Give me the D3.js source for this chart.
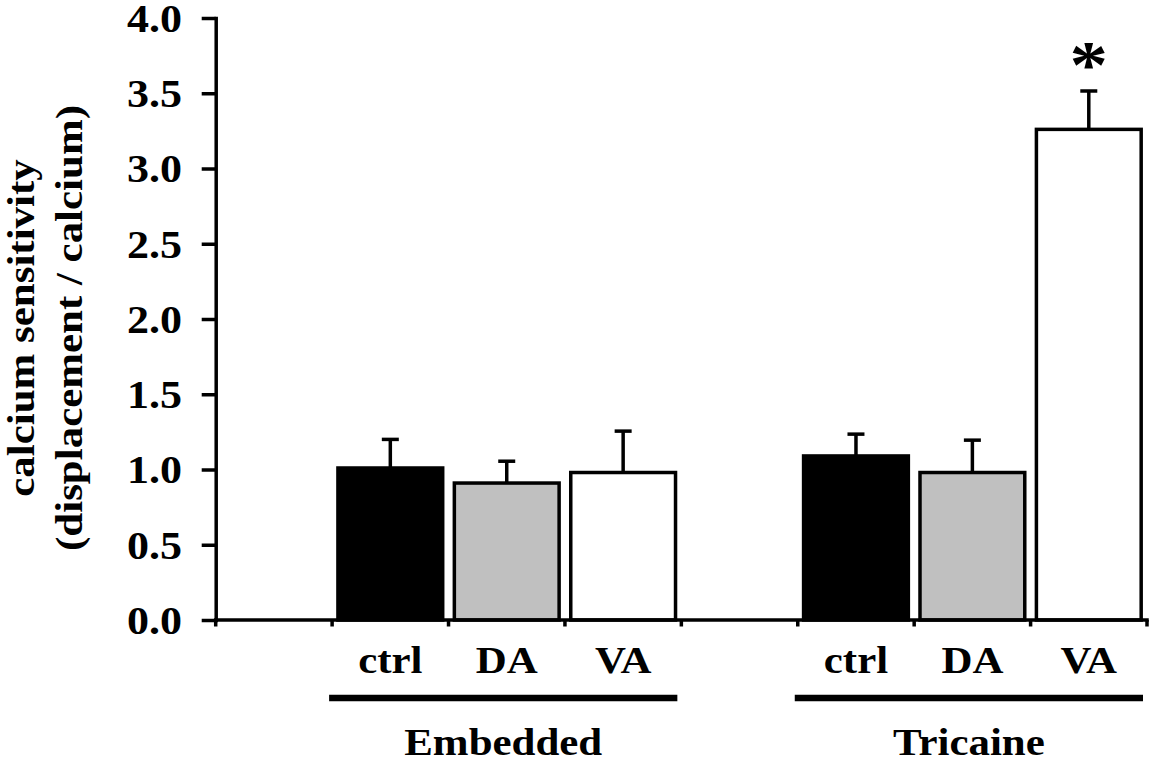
<!DOCTYPE html>
<html><head><meta charset="utf-8">
<script src="https://cdn.jsdelivr.net/npm/d3@7/dist/d3.min.js"></script>
<style>html,body{margin:0;padding:0;background:#fff;} svg{display:block;}</style>
</head><body>
<svg id="chart" width="1152" height="762"></svg>
<script>
// ---- data ----
const groups = ["Embedded", "Tricaine"];
const conditions = ["ctrl", "DA", "VA"];
const conditionFills = ["#000000", "#c0c0c0", "#ffffff"];
const embeddedMeans = [1.01, 0.91, 0.98];
const embeddedErrors = [0.19, 0.145, 0.275];
const tricaineMeans = [1.09, 0.98, 3.26];
const tricaineErrors = [0.145, 0.215, 0.255];
const embeddedSignificant = [false, false, false];
const tricaineSignificant = [false, false, true];
const yTicks = [0, 0.5, 1.0, 1.5, 2.0, 2.5, 3.0, 3.5, 4.0];
const yTitleLines = ["calcium sensitivity", "(displacement / calcium)"];
const significanceMark = "*";

// ---- build rows ----
const groupMeans = [embeddedMeans, tricaineMeans];
const groupErrors = [embeddedErrors, tricaineErrors];
const groupSig = [embeddedSignificant, tricaineSignificant];
const rows = [];
groups.forEach((g, gi) => conditions.forEach((c, ci) => rows.push({
  key: g + "|" + c, group: g, cond: c, ci,
  mean: groupMeans[gi][ci], err: groupErrors[gi][ci], sig: groupSig[gi][ci]
})));
const slotKeys = groups.flatMap(g => [g + "|spacer", ...conditions.map(c => g + "|" + c)]);

// ---- layout ----
const FONT = "'Liberation Serif','Times New Roman',Times,serif";
const SX = 1.13;
const svg = d3.select("#chart");
const x = d3.scaleBand().domain(slotKeys).range([215.7, 1147]).padding(0);
const y = d3.scaleLinear().domain([0, 4]).range([620, 18]);
const bw = x.bandwidth();
const barW = bw * 0.9;
const SW = 3.5;

function txt(parent, tx, ty, str, size, anchor, rot) {
  return parent.append("text")
    .attr("transform", `translate(${tx},${ty})` + (rot ? ` rotate(${rot})` : "") + ` scale(${SX},1)`)
    .attr("text-anchor", anchor)
    .attr("font-family", FONT).attr("font-weight", "bold")
    .attr("font-size", size).attr("fill", "#000")
    .text(str);
}

// bars
svg.append("g").selectAll("rect").data(rows).join("rect")
  .attr("x", d => x(d.key) + (bw - barW) / 2)
  .attr("width", barW)
  .attr("y", d => y(d.mean))
  .attr("height", d => y(0) - y(d.mean))
  .attr("fill", d => conditionFills[d.ci])
  .attr("stroke", "#000").attr("stroke-width", SW);

// error bars
const eb = svg.append("g").attr("stroke", "#000").attr("stroke-width", SW);
rows.forEach(d => {
  const cx = x(d.key) + bw / 2;
  eb.append("line").attr("x1", cx).attr("x2", cx)
    .attr("y1", y(d.mean)).attr("y2", y(d.mean + d.err));
  eb.append("line").attr("x1", cx - 8.5).attr("x2", cx + 8.5)
    .attr("y1", y(d.mean + d.err)).attr("y2", y(d.mean + d.err));
  if (d.sig) txt(svg, cx, y(d.mean + d.err) - 4, significanceMark, 68, "middle");
});

// y axis
const yAxis = svg.append("g").attr("transform", `translate(${x.range()[0]},0)`)
  .call(d3.axisLeft(y).tickValues(yTicks).tickSize(14).tickSizeOuter(0).tickFormat(d3.format(".1f")));
yAxis.select(".domain").attr("stroke", "#000").attr("stroke-width", SW).attr("stroke-linecap", "square");
yAxis.selectAll(".tick line").attr("stroke", "#000").attr("stroke-width", SW);
yAxis.selectAll(".tick text")
  .attr("x", -33.7 / SX).attr("dy", "0.34em")
  .attr("transform", `scale(${SX},1)`)
  .attr("font-family", FONT).attr("font-weight", "bold").attr("font-size", 39).attr("fill", "#000");

// x axis line + ticks at slot boundaries
const xa = svg.append("g").attr("stroke", "#000").attr("stroke-width", SW);
xa.append("line").attr("x1", x.range()[0]).attr("x2", x.range()[1])
  .attr("y1", y(0)).attr("y2", y(0)).attr("stroke-linecap", "square");
const bounds = slotKeys.map(k => x(k)).concat([x.range()[1]]);
xa.selectAll("line.tk").data(bounds).join("line").attr("class", "tk")
  .attr("x1", d => d).attr("x2", d => d)
  .attr("y1", y(0)).attr("y2", y(0) + 6.5);

// category labels
rows.forEach(d => txt(svg, x(d.key) + bw / 2, 673, d.cond, 38, "middle"));

// group lines and labels
groups.forEach(g => {
  const x0 = x(g + "|" + conditions[0]) - 3;
  const x1 = x(g + "|" + conditions[conditions.length - 1]) + bw - 4;
  svg.append("line").attr("x1", x0).attr("x2", x1)
    .attr("y1", 698).attr("y2", 698).attr("stroke", "#000").attr("stroke-width", 6.5);
  txt(svg, (x0 + x1) / 2, 755, g, 38, "middle");
});

// y title
txt(svg, 34, 328, yTitleLines[0], 38, "middle", -90);
txt(svg, 82, 328, yTitleLines[1], 38, "middle", -90);
</script>
</body></html>
